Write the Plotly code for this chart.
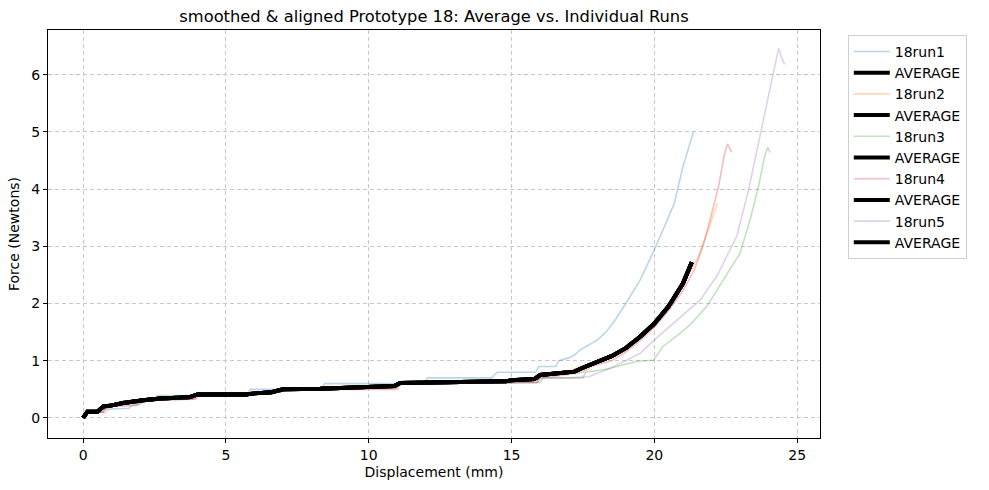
import plotly.graph_objects as go

# ---- data ----
run1_x = [0, 0.15, 0.6, 0.7, 1.6, 1.7, 2.0, 2.1, 2.6, 3.85, 3.95, 5.75, 5.85, 8.35, 8.45, 11.95, 12.05, 14.3, 14.4,
          14.5, 15.85, 15.95, 16.55, 16.65, 17.0, 17.2, 17.4, 17.7, 18.0, 18.3, 18.6, 19.0, 19.5, 20.0, 20.3,
          20.7, 21.0, 21.37]
run1_y = [0, 0.1, 0.1, 0.15, 0.17, 0.22, 0.24, 0.3, 0.32, 0.35, 0.4, 0.4, 0.5, 0.5, 0.6, 0.6, 0.7, 0.7, 0.75,
          0.8, 0.8, 0.9, 0.9, 1.0, 1.05, 1.1, 1.19, 1.27, 1.36, 1.5, 1.69, 2.0, 2.41, 2.94, 3.3,
          3.75, 4.39, 5.0]

run2_x = [0, 0.2, 0.8, 0.9, 2.0, 2.5, 3.85, 3.95, 5.85, 5.95, 6.9, 7.0, 10.95, 11.05, 14.0, 15.0, 15.9, 16.0,
          17.0, 17.6, 18.2, 18.8, 19.3, 19.8, 20.3, 20.8, 21.2, 21.54, 21.9, 22.2]
run2_y = [0, 0.1, 0.1, 0.2, 0.27, 0.32, 0.33, 0.4, 0.4, 0.45, 0.45, 0.5, 0.53, 0.6, 0.62, 0.65, 0.65, 0.72,
          0.82, 0.92, 1.03, 1.17, 1.33, 1.55, 1.82, 2.15, 2.5, 2.82, 3.3, 3.75]

run3_x = [0, 0.2, 0.6, 0.7, 1.3, 1.4, 2.5, 2.6, 3.75, 3.85, 5.85, 5.95, 6.9, 7.0, 10.95, 11.05, 15.5, 16.0, 16.1,
          17.5, 17.6, 18.3, 18.7, 19.4, 19.97, 20.3, 20.9, 21.3, 21.84, 22.42, 23.0, 23.35, 23.65, 23.85,
          23.97, 24.05]
run3_y = [0, 0.1, 0.1, 0.2, 0.22, 0.3, 0.3, 0.39, 0.39, 0.4, 0.4, 0.45, 0.45, 0.5, 0.52, 0.6, 0.62, 0.62, 0.7,
          0.7, 0.8, 0.85, 0.9, 0.99, 1.01, 1.25, 1.48, 1.65, 1.95, 2.41, 2.88, 3.46, 4.05, 4.55,
          4.73, 4.64]

run4_x = [0, 0.2, 0.7, 0.8, 1.9, 2.0, 3.6, 3.95, 4.05, 5.9, 6.0, 6.9, 7.0, 10.0, 11.0, 11.1, 15.0, 15.9, 16.0,
          16.4, 17.5, 17.8, 18.5, 19.0, 19.5, 20.0, 20.5, 21.0, 21.4, 21.7, 21.95, 22.25, 22.45, 22.56, 22.71]
run4_y = [0, 0.1, 0.1, 0.2, 0.22, 0.3, 0.33, 0.33, 0.4, 0.4, 0.45, 0.45, 0.5, 0.5, 0.5, 0.6, 0.62, 0.62, 0.7,
          0.72, 0.8, 0.9, 1.0, 1.15, 1.35, 1.58, 1.88, 2.22, 2.59, 3.0, 3.46, 4.05, 4.6, 4.79, 4.64]

run5_x = [0, 0.2, 0.7, 0.8, 2.0, 2.6, 3.85, 3.95, 5.75, 5.85, 6.9, 7.0, 10.0, 11.0, 11.1, 15.0, 15.9, 16.0,
          17.0, 17.7, 18.45, 19.0, 19.5, 20.08, 20.9, 21.14, 21.6, 22.19, 22.89, 23.3, 23.82, 24.17,
          24.35, 24.45, 24.56]
run5_y = [0, 0.1, 0.1, 0.2, 0.27, 0.32, 0.33, 0.4, 0.4, 0.45, 0.45, 0.5, 0.52, 0.55, 0.6, 0.62, 0.62, 0.7,
          0.7, 0.72, 0.87, 1.0, 1.13, 1.40, 1.75, 1.85, 2.06, 2.48, 3.18, 3.99, 5.21, 6.02,
          6.46, 6.3, 6.18]

avg_x = [0, 0.15, 0.5, 0.7, 1.0, 1.4, 2.1, 2.7, 3.7, 4.0, 5.7, 6.0, 6.6, 7.0, 8.3, 9.7, 10.9, 11.1, 14.8, 15.0,
         15.8, 16.0, 16.6, 17.2, 17.6, 17.9, 18.5, 19.0, 19.5, 20.0, 20.5, 21.0, 21.31]
avg_y = [0, 0.11, 0.11, 0.2, 0.22, 0.26, 0.31, 0.34, 0.36, 0.41, 0.41, 0.43, 0.45, 0.5, 0.51, 0.54, 0.56, 0.61, 0.64,
         0.66, 0.68, 0.75, 0.78, 0.81, 0.9, 0.96, 1.08, 1.22, 1.42, 1.65, 1.95, 2.35, 2.72]

run_names = ["18run1", "18run2", "18run3", "18run4", "18run5"]
run_xs = [run1_x, run2_x, run3_x, run4_x, run5_x]
run_ys = [run1_y, run2_y, run3_y, run4_y, run5_y]
run_colors = ["rgba(31,119,180,0.3)", "rgba(255,127,14,0.3)", "rgba(44,160,44,0.3)",
              "rgba(214,39,40,0.3)", "rgba(148,103,189,0.3)"]

x_ticks = [0, 5, 10, 15, 20, 25]
y_ticks = [0, 1, 2, 3, 4, 5, 6]

FONT = "DejaVu Sans"

fig = go.Figure()
for name, xs, ys, col in zip(run_names, run_xs, run_ys, run_colors):
    fig.add_trace(go.Scatter(x=xs, y=ys, mode="lines", name=name,
                             line=dict(color=col, width=1.6)))
    fig.add_trace(go.Scatter(x=avg_x, y=avg_y, mode="lines", name="AVERAGE",
                             line=dict(color="black", width=4)))

axis_common = dict(showline=True, mirror=True, linecolor="black", linewidth=1,
                   ticks="outside", ticklen=4, tickcolor="black",
                   showgrid=True, gridcolor="#c8c8c8", griddash="4px,3px", gridwidth=1,
                   zeroline=False, tickfont=dict(family=FONT, size=14, color="black"))

fig.update_layout(
    width=989, height=490,
    margin=dict(l=48, r=169, t=30, b=52),
    paper_bgcolor="white", plot_bgcolor="white",
    font=dict(family=FONT, size=14, color="black"),
    title=dict(text="smoothed & aligned Prototype 18: Average vs. Individual Runs",
               x=0.5, xref="paper", xanchor="center", y=1 - 16 / 490, yanchor="middle",
               font=dict(family=FONT, size=16.3, color="black")),
    xaxis=dict(range=[-1.23, 25.8], tickvals=x_ticks,
               title=dict(text="Displacement (mm)", font=dict(family=FONT, size=14), standoff=5),
               **axis_common),
    yaxis=dict(range=[-0.35, 6.78], tickvals=y_ticks,
               title=dict(text="Force (Newtons)", font=dict(family=FONT, size=14), standoff=8),
               **axis_common),
    legend=dict(x=1.036, xanchor="left", y=0.988, yanchor="top",
                bordercolor="#d0d0d0", borderwidth=1, bgcolor="white",
                font=dict(family=FONT, size=14), itemwidth=36, tracegroupgap=0),
    showlegend=True,
)

fig.write_html("out.html")
